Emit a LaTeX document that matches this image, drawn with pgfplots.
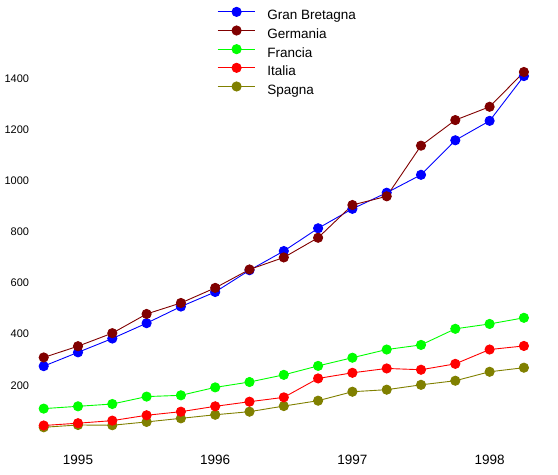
\documentclass[border=0pt]{standalone}
\usepackage{pgfplots}
\pgfplotsset{compat=1.18}
\usepackage{fontspec}
\setmainfont{Liberation Sans}
\definecolor{cGB}{RGB}{0,0,255}
\definecolor{cGE}{RGB}{128,0,0}
\definecolor{cFR}{RGB}{0,255,0}
\definecolor{cIT}{RGB}{255,0,0}
\definecolor{cSP}{RGB}{128,128,0}
\pgfplotstableread{
i GB Ger Fra Ita Spa
0 275 309 109 43 36
1 329 353 118 52 45
2 383 404 127 62 44
3 443 479 156 83 57
4 508 522 161 97 71
5 565 581 192 118 85
6 650 653 213 136 97
7 725 700 241 153 119
8 814 777 276 227 140
9 890 905 308 249 175
10 953 939 340 266 183
11 1023 1137 358 261 202
12 1158 1237 421 284 218
13 1234 1289 440 340 253
14 1409 1425 464 354 269
}\datatable
\begin{document}
\begin{tikzpicture}[x=1bp,y=1bp]
\useasboundingbox (0,0) rectangle (558,475);
\begin{axis}[
  at={(43.7bp,38.5bp)}, anchor=south west,
  scale only axis, width=480.2bp, height=358.1bp,
  xmin=0, xmax=14, ymin=0, ymax=1400,
  clip=false,
  axis line style={draw=none},
  major tick style={draw=none},
  minor tick style={draw=none},
  xtick={1,5,9,13}, xticklabels={1995,1996,1997,1998},
  ytick={200,400,600,800,1000,1200,1400},
  /pgf/number format/assume math mode=true,
  /pgf/number format/1000 sep={},
  xticklabel style={font=\fontsize{13.5bp}{15bp}\selectfont, inner sep=0pt, anchor=north, yshift=-18.5bp},
  yticklabel style={font=\fontsize{11bp}{13bp}\selectfont, inner sep=0pt, anchor=east, xshift=-14.4bp},
  legend style={draw=none, fill=none, at={(0.3615,1.1986)}, anchor=north west,
    inner sep=0pt, outer sep=0pt, row sep=2.8bp,
    nodes={inner sep=0pt, text height=10bp, text depth=3.3bp},
    font=\fontsize{13.5bp}{15bp}\selectfont},
  legend cell align=left,
  /tikz/every odd column/.append style={column sep=11.5bp},
  legend image code/.code={\draw[mark repeat=2,mark phase=2] plot coordinates {(0bp,4.6bp)(18.85bp,4.6bp)(37.7bp,4.6bp)};},
  every axis plot/.append style={line width=0.9bp, mark=*, mark size=4.6bp},
]
\addplot[color=cSP, mark options={fill=cSP, draw=cSP}, forget plot] table[x=i,y=Spa] {\datatable};
\addplot[color=cFR, mark options={fill=cFR, draw=cFR}, forget plot] table[x=i,y=Fra] {\datatable};
\addplot[color=cIT, mark options={fill=cIT, draw=cIT}, forget plot] table[x=i,y=Ita] {\datatable};
\addplot[color=cGB, mark options={fill=cGB, draw=cGB}, forget plot] table[x=i,y=GB] {\datatable};
\addplot[color=cGE, mark options={fill=cGE, draw=cGE}, forget plot] table[x=i,y=Ger] {\datatable};
\addlegendimage{color=cGB, line width=0.9bp, mark=*, mark size=4.6bp, mark options={fill=cGB, draw=cGB}}
\addlegendentry{Gran Bretagna}
\addlegendimage{color=cGE, line width=0.9bp, mark=*, mark size=4.6bp, mark options={fill=cGE, draw=cGE}}
\addlegendentry{Germania}
\addlegendimage{color=cFR, line width=0.9bp, mark=*, mark size=4.6bp, mark options={fill=cFR, draw=cFR}}
\addlegendentry{Francia}
\addlegendimage{color=cIT, line width=0.9bp, mark=*, mark size=4.6bp, mark options={fill=cIT, draw=cIT}}
\addlegendentry{Italia}
\addlegendimage{color=cSP, line width=0.9bp, mark=*, mark size=4.6bp, mark options={fill=cSP, draw=cSP}}
\addlegendentry{Spagna}
\end{axis}
\end{tikzpicture}
\end{document}
